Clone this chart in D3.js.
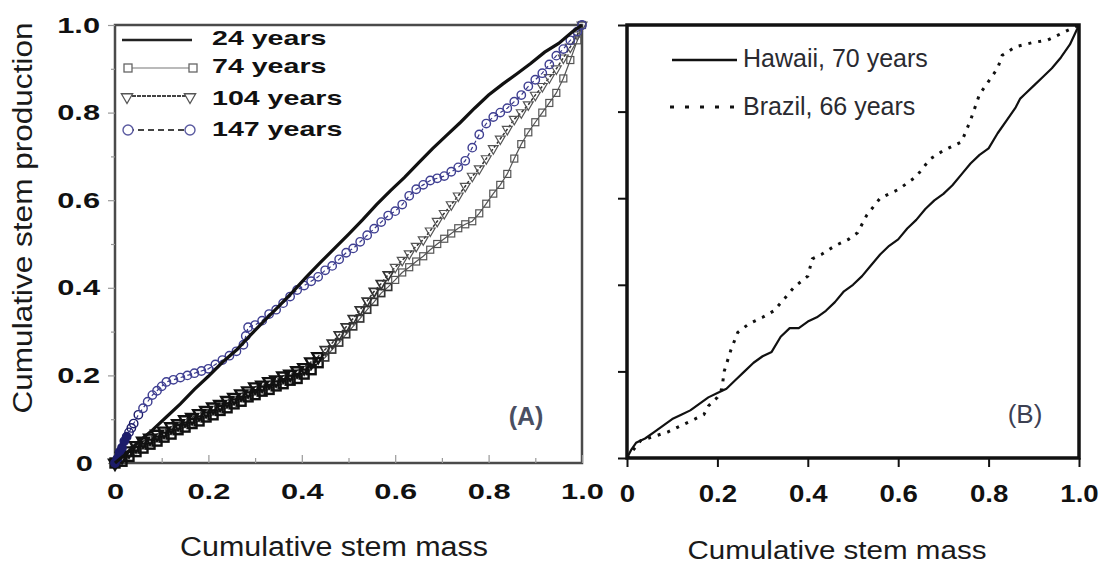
<!DOCTYPE html>
<html>
<head>
<meta charset="utf-8">
<script src="https://cdn.jsdelivr.net/npm/d3@7"></script>
<style>
  body { margin: 0; background: #fff; }
  svg { display: block; font-family: "Liberation Sans", Arial, sans-serif; }
</style>
</head>
<body>
<div id="chart"></div>
<script>
// tick values / labels
var tickVals = [0, 0.2, 0.4, 0.6, 0.8, 1.0];
var minorVals = [0.1, 0.3, 0.5, 0.7, 0.9];
var tickLabels = ["0", "0.2", "0.4", "0.6", "0.8", "1.0"];

var namesA = ["24 years", "74 years", "104 years", "147 years"];
var namesB = ["Hawaii, 70 years", "Brazil, 66 years"];

// panel A series: [cumulative stem mass, cumulative stem production]
var yr24 = [[0,0],[0.02,0.018],[0.05,0.048],[0.08,0.075],[0.11,0.105],[0.14,0.135],[0.17,0.168],[0.2,0.198],
  [0.23,0.23],[0.26,0.258],[0.29,0.292],[0.32,0.325],[0.35,0.357],[0.38,0.39],[0.41,0.425],[0.44,0.458],
  [0.47,0.49],[0.5,0.522],[0.53,0.555],[0.56,0.59],[0.59,0.622],[0.62,0.652],[0.65,0.685],[0.68,0.718],
  [0.71,0.748],[0.74,0.778],[0.77,0.81],[0.8,0.84],[0.83,0.865],[0.86,0.888],[0.89,0.912],[0.92,0.938],
  [0.95,0.958],[0.98,0.985],[1,1]];

var yr74 = [[0,0],[0.015,0.004],[0.03,0.015],[0.045,0.026],[0.06,0.034],[0.075,0.043],[0.09,0.05],[0.105,0.059],
  [0.12,0.066],[0.135,0.076],[0.15,0.082],[0.165,0.09],[0.18,0.096],[0.195,0.105],[0.21,0.11],[0.225,0.12],
  [0.24,0.126],[0.255,0.135],[0.27,0.141],[0.285,0.151],[0.3,0.156],[0.315,0.164],[0.33,0.168],[0.345,0.176],
  [0.36,0.181],[0.375,0.189],[0.39,0.193],[0.405,0.203],[0.42,0.213],[0.435,0.229],[0.45,0.241],[0.465,0.259],
  [0.48,0.275],[0.495,0.294],[0.51,0.312],[0.525,0.33],[0.54,0.35],[0.555,0.368],[0.57,0.388],[0.585,0.402],
  [0.6,0.418],[0.615,0.435],[0.63,0.447],[0.645,0.46],[0.66,0.472],[0.675,0.487],[0.69,0.5],[0.705,0.512],
  [0.72,0.524],[0.735,0.536],[0.75,0.545],[0.765,0.552],[0.78,0.57],[0.795,0.592],[0.81,0.615],[0.825,0.635],
  [0.84,0.66],[0.855,0.695],[0.87,0.728],[0.885,0.755],[0.9,0.778],[0.915,0.8],[0.93,0.822],[0.945,0.845],
  [0.96,0.878],[0.975,0.92],[0.99,0.965],[1,1]];

var yr104 = [[0,0],[0.015,0.015],[0.03,0.028],[0.045,0.04],[0.06,0.05],[0.075,0.057],[0.09,0.066],[0.105,0.073],
  [0.12,0.083],[0.135,0.09],[0.15,0.099],[0.165,0.104],[0.18,0.113],[0.195,0.12],[0.21,0.128],[0.225,0.134],
  [0.24,0.143],[0.255,0.15],[0.27,0.158],[0.285,0.165],[0.3,0.174],[0.315,0.178],[0.33,0.186],[0.345,0.19],
  [0.36,0.199],[0.375,0.203],[0.39,0.211],[0.405,0.218],[0.42,0.231],[0.435,0.243],[0.45,0.259],[0.465,0.274],
  [0.48,0.293],[0.495,0.311],[0.51,0.33],[0.525,0.35],[0.54,0.37],[0.555,0.392],[0.57,0.41],[0.585,0.43],
  [0.6,0.447],[0.615,0.463],[0.63,0.478],[0.645,0.495],[0.66,0.51],[0.675,0.53],[0.69,0.552],[0.705,0.57],
  [0.72,0.59],[0.735,0.61],[0.75,0.632],[0.765,0.655],[0.78,0.672],[0.795,0.695],[0.81,0.718],[0.825,0.74],
  [0.84,0.762],[0.855,0.785],[0.87,0.8],[0.885,0.818],[0.9,0.84],[0.915,0.86],[0.93,0.88],[0.945,0.9],
  [0.96,0.925],[0.975,0.95],[0.99,0.978],[1,1]];

var yr147 = [[0,0],[0.005,0.01],[0.01,0.025],[0.015,0.035],[0.02,0.05],[0.025,0.06],[0.03,0.07],[0.035,0.08],
  [0.04,0.09],[0.05,0.11],[0.06,0.125],[0.07,0.14],[0.08,0.155],[0.09,0.165],[0.1,0.175],[0.11,0.185],
  [0.125,0.19],[0.14,0.195],[0.155,0.2],[0.17,0.205],[0.185,0.21],[0.2,0.215],[0.215,0.225],[0.23,0.235],
  [0.245,0.245],[0.26,0.255],[0.275,0.27],[0.28,0.29],[0.285,0.31],[0.3,0.315],[0.315,0.325],[0.33,0.34],
  [0.345,0.35],[0.36,0.365],[0.375,0.38],[0.39,0.395],[0.405,0.405],[0.42,0.415],[0.435,0.425],[0.45,0.44],
  [0.465,0.45],[0.48,0.465],[0.495,0.48],[0.51,0.49],[0.525,0.505],[0.54,0.52],[0.555,0.535],[0.57,0.55],
  [0.585,0.565],[0.6,0.575],[0.615,0.59],[0.63,0.61],[0.645,0.625],[0.66,0.635],[0.675,0.645],[0.69,0.65],
  [0.705,0.655],[0.72,0.665],[0.735,0.675],[0.75,0.69],[0.765,0.72],[0.78,0.75],[0.795,0.775],[0.81,0.79],
  [0.825,0.8],[0.84,0.81],[0.855,0.825],[0.87,0.84],[0.885,0.86],[0.9,0.875],[0.915,0.89],[0.93,0.91],
  [0.945,0.93],[0.96,0.945],[0.975,0.965],[0.99,0.985],[1,1]];

// panel B series
var hawaii70 = [[0,0],[0.01,0.02],[0.02,0.035],[0.04,0.045],[0.06,0.06],[0.08,0.075],[0.1,0.09],[0.12,0.1],
  [0.14,0.11],[0.16,0.125],[0.18,0.14],[0.2,0.15],[0.22,0.16],[0.24,0.18],[0.26,0.2],[0.28,0.22],[0.3,0.235],
  [0.32,0.245],[0.34,0.28],[0.36,0.3],[0.38,0.3],[0.4,0.315],[0.42,0.325],[0.44,0.34],[0.46,0.36],[0.48,0.385],
  [0.5,0.4],[0.52,0.42],[0.54,0.445],[0.56,0.47],[0.58,0.49],[0.6,0.505],[0.62,0.53],[0.64,0.55],[0.66,0.575],
  [0.68,0.595],[0.7,0.61],[0.72,0.63],[0.74,0.655],[0.76,0.68],[0.78,0.7],[0.8,0.715],[0.82,0.75],[0.84,0.78],
  [0.86,0.81],[0.87,0.83],[0.88,0.84],[0.9,0.86],[0.92,0.88],[0.94,0.9],[0.96,0.925],[0.98,0.955],[1,1]];

var brazil66 = [[0,0],[0.03,0.04],[0.06,0.05],[0.09,0.06],[0.12,0.075],[0.15,0.09],[0.17,0.1],[0.18,0.12],
  [0.2,0.14],[0.21,0.16],[0.215,0.2],[0.23,0.25],[0.245,0.29],[0.27,0.31],[0.3,0.325],[0.325,0.34],[0.35,0.37],
  [0.37,0.395],[0.4,0.42],[0.41,0.46],[0.43,0.47],[0.46,0.49],[0.49,0.505],[0.51,0.52],[0.53,0.56],[0.56,0.6],
  [0.6,0.62],[0.64,0.65],[0.67,0.69],[0.7,0.71],[0.74,0.73],[0.76,0.78],[0.78,0.84],[0.8,0.87],[0.82,0.9],
  [0.83,0.93],[0.86,0.95],[0.9,0.96],[0.93,0.965],[0.96,0.98],[0.98,0.99],[1,1]];

var W = 1100, H = 567;

var svg = d3.select("#chart")
    .append("svg")
    .attr("width", W)
    .attr("height", H);

svg.append("rect").attr("width", W).attr("height", H).attr("fill", "#fff");

drawPanelA();
drawPanelB();

function fmt(d) {
  return tickLabels[tickVals.indexOf(d)];
}

function drawPanelA() {
  var x = d3.scaleLinear().domain([0, 1]).range([115, 582]);
  var y = d3.scaleLinear().domain([0, 1]).range([463, 25]);

  var g = svg.append("g").attr("class", "panelA");

  // frame
  g.append("rect")
      .attr("x", x(0)).attr("y", y(1))
      .attr("width", x(1) - x(0)).attr("height", y(0) - y(1))
      .attr("fill", "none")
      .attr("stroke", "#4a4a4a")
      .attr("stroke-width", 2.5);

  // bottom axis
  var gx = g.append("g")
      .attr("transform", "translate(0," + y(0) + ")")
      .call(d3.axisBottom(x).tickValues(tickVals).tickSize(-8).tickPadding(20).tickFormat(fmt));
  var gxm = g.append("g")
      .attr("transform", "translate(0," + y(0) + ")")
      .call(d3.axisBottom(x).tickValues(minorVals).tickSize(-5).tickFormat(""));

  gx.selectAll("text")
      .attr("transform", "scale(1.4,1)")
      .style("font-size", "22px")
      .style("font-weight", "bold")
      .attr("fill", "#111");

  // left axis
  var gy = g.append("g")
      .attr("transform", "translate(" + x(0) + ",0)")
      .call(d3.axisLeft(y).tickValues(tickVals).tickSize(7).tickFormat(fmt));
  var gym = g.append("g")
      .attr("transform", "translate(" + x(0) + ",0)")
      .call(d3.axisLeft(y).tickValues(minorVals).tickSize(4).tickFormat(""));

  gy.selectAll("text")
      .attr("x", 0)
      .attr("transform", function (d) { return "translate(" + (d === 0 ? -22 : -15) + ",0) scale(1.4,1)"; })
      .style("font-size", "22px")
      .style("font-weight", "bold")
      .attr("fill", "#111");

  g.selectAll(".domain").remove();
  g.selectAll(".tick line").attr("stroke", "#999").attr("stroke-width", 1.2);

  var line = d3.line()
      .x(function (d) { return x(d[0]); })
      .y(function (d) { return y(d[1]); });

  // lower part of the 74/104 series is a dense dark band
  function markColor(d) { return d[0] < 0.45 ? "#111" : (d[0] < 0.6 ? "#333" : "#555"); }
  function markWidth(d) { return d[0] < 0.45 ? 2.4 : (d[0] < 0.6 ? 1.7 : 1.2); }
  function markSize(d) { return d[0] < 0.45 ? 9 : 7; }

  // 74 years - squares
  g.append("path").datum(yr74)
      .attr("d", line).attr("fill", "none")
      .attr("stroke", "#555").attr("stroke-width", 1.2);
  g.selectAll(".sq").data(yr74).enter()
      .append("rect").attr("class", "sq")
      .attr("x", function (d) { return x(d[0]) - markSize(d) / 2; })
      .attr("y", function (d) { return y(d[1]) - markSize(d) / 2; })
      .attr("width", markSize).attr("height", markSize)
      .attr("fill", "none")
      .attr("stroke", markColor)
      .attr("stroke-width", markWidth);

  // 104 years - down triangles
  g.append("path").datum(yr104)
      .attr("d", line).attr("fill", "none")
      .attr("stroke", "#333").attr("stroke-width", 1.5)
      .attr("stroke-dasharray", "3,2");
  g.selectAll(".tri").data(yr104).enter()
      .append("path").attr("class", "tri")
      .attr("d", function (d) { return d3.symbol().type(d3.symbolTriangle).size(d[0] < 0.45 ? 60 : 42)(); })
      .attr("transform", function (d) { return "translate(" + x(d[0]) + "," + y(d[1]) + ") rotate(180)"; })
      .attr("fill", "none")
      .attr("stroke", markColor)
      .attr("stroke-width", markWidth);

  // 147 years - blue circles
  g.append("path").datum(yr147)
      .attr("d", line).attr("fill", "none")
      .attr("stroke", "#3a3a8a").attr("stroke-width", 1.2)
      .attr("stroke-dasharray", "4,3");
  g.selectAll(".circ").data(yr147).enter()
      .append("circle").attr("class", "circ")
      .attr("cx", function (d) { return x(d[0]); })
      .attr("cy", function (d) { return y(d[1]); })
      .attr("r", 4.2)
      .attr("fill", function (d) { return d[0] < 0.03 ? "#1c1c6a" : "none"; })
      .attr("stroke", function (d) { return d[0] < 0.06 ? "#1c1c6a" : "#3f3f92"; })
      .attr("stroke-width", 1.4);

  // 24 years - solid
  g.append("path").datum(yr24)
      .attr("d", line).attr("fill", "none")
      .attr("stroke", "#111").attr("stroke-width", 3.2);

  // legend
  var leg = g.append("g").attr("class", "legendA");
  var ly = [40, 68, 97, 130];
  var lb = [45, 73, 105, 136];

  leg.append("line").attr("x1", 122).attr("x2", 192).attr("y1", ly[0]).attr("y2", ly[0])
      .attr("stroke", "#222").attr("stroke-width", 2.5);

  leg.append("line").attr("x1", 128).attr("x2", 193).attr("y1", ly[1]).attr("y2", ly[1])
      .attr("stroke", "#777").attr("stroke-width", 1.2);
  leg.selectAll(".lsq").data([128, 193]).enter().append("rect")
      .attr("x", function (d) { return d - 4; }).attr("y", ly[1] - 4)
      .attr("width", 8).attr("height", 8)
      .attr("fill", "#fff").attr("stroke", "#666").attr("stroke-width", 1.3);

  leg.append("line").attr("x1", 127).attr("x2", 190).attr("y1", ly[2] - 1).attr("y2", ly[2] - 1)
      .attr("stroke", "#444").attr("stroke-width", 2).attr("stroke-dasharray", "4,1");
  leg.selectAll(".ltri").data([127, 190]).enter().append("path")
      .attr("d", d3.symbol().type(d3.symbolTriangle).size(55))
      .attr("transform", function (d) { return "translate(" + d + "," + ly[2] + ") rotate(180)"; })
      .attr("fill", "#fff").attr("stroke", "#555").attr("stroke-width", 1.3);

  leg.append("line").attr("x1", 128).attr("x2", 190).attr("y1", ly[3]).attr("y2", ly[3])
      .attr("stroke", "#444").attr("stroke-width", 2).attr("stroke-dasharray", "6,4");
  leg.selectAll(".lcirc").data([128, 190]).enter().append("circle")
      .attr("cx", function (d) { return d; }).attr("cy", ly[3])
      .attr("r", 5)
      .attr("fill", "#fff").attr("stroke", "#5a5aa0").attr("stroke-width", 1.4);

  leg.selectAll(".ltext").data(namesA).enter().append("text")
      .attr("transform", function (d, i) { return "translate(212," + lb[i] + ") scale(1.43,1)"; })
      .style("font-size", "20px")
      .style("font-weight", "bold")
      .attr("fill", "#111")
      .text(function (d) { return d; });

  // panel tag
  g.append("text")
      .attr("x", 526).attr("y", 425)
      .attr("text-anchor", "middle")
      .style("font-size", "25px")
      .style("font-weight", "bold")
      .attr("fill", "#4a4f62")
      .text("(A)");

  // axis titles
  g.append("text")
      .attr("transform", "translate(23,218) rotate(-90)")
      .attr("text-anchor", "middle")
      .attr("dy", "0.35em")
      .attr("textLength", 391)
      .attr("lengthAdjust", "spacingAndGlyphs")
      .style("font-size", "27px")
      .attr("fill", "#1a1a1a")
      .text("Cumulative stem production");

  g.append("text")
      .attr("x", 334).attr("y", 547)
      .attr("text-anchor", "middle")
      .attr("dy", "0.35em")
      .attr("textLength", 308)
      .attr("lengthAdjust", "spacingAndGlyphs")
      .style("font-size", "27px")
      .attr("fill", "#1a1a1a")
      .text("Cumulative stem mass");
}

function drawPanelB() {
  var x = d3.scaleLinear().domain([0, 1]).range([627, 1079]);
  var y = d3.scaleLinear().domain([0, 1]).range([458, 25]);

  var g = svg.append("g").attr("class", "panelB");

  var gx = g.append("g")
      .attr("transform", "translate(0," + y(0) + ")")
      .call(d3.axisBottom(x).tickValues(tickVals).tickSize(9).tickPadding(18).tickFormat(fmt));
  gx.selectAll("text")
      .attr("transform", "scale(1.15,1)")
      .style("font-size", "24px")
      .style("font-weight", "bold")
      .attr("fill", "#111");

  var gy = g.append("g")
      .attr("transform", "translate(" + x(0) + ",0)")
      .call(d3.axisLeft(y).tickValues(tickVals).tickSize(9).tickFormat(""));

  g.selectAll(".domain").remove();
  g.selectAll(".tick line").attr("stroke", "#111").attr("stroke-width", 2);

  g.append("rect")
      .attr("x", x(0)).attr("y", y(1))
      .attr("width", x(1) - x(0)).attr("height", y(0) - y(1))
      .attr("fill", "none")
      .attr("stroke", "#111")
      .attr("stroke-width", 3.5);

  var line = d3.line()
      .x(function (d) { return x(d[0]); })
      .y(function (d) { return y(d[1]); });

  g.append("path").datum(brazil66)
      .attr("d", line).attr("fill", "none")
      .attr("stroke", "#111").attr("stroke-width", 3)
      .attr("stroke-dasharray", "3,7");

  g.append("path").datum(hawaii70)
      .attr("d", line).attr("fill", "none")
      .attr("stroke", "#111").attr("stroke-width", 2.2)
      .attr("stroke-linejoin", "round");

  // legend
  g.append("line").attr("x1", 672).attr("x2", 737).attr("y1", 60).attr("y2", 60)
      .attr("stroke", "#111").attr("stroke-width", 2.5);
  g.append("line").attr("x1", 670).attr("x2", 737).attr("y1", 107).attr("y2", 107)
      .attr("stroke", "#111").attr("stroke-width", 3)
      .attr("stroke-dasharray", "4,11");

  g.selectAll(".ltext").data(namesB).enter().append("text")
      .attr("x", 743)
      .attr("y", function (d, i) { return i === 0 ? 67 : 115; })
      .style("font-size", "25px")
      .attr("fill", "#2a2a30")
      .text(function (d) { return d; });

  g.append("text")
      .attr("x", 1025).attr("y", 423)
      .attr("text-anchor", "middle")
      .style("font-size", "26px")
      .attr("fill", "#3c4052")
      .text("(B)");

  g.append("text")
      .attr("x", 837).attr("y", 550)
      .attr("text-anchor", "middle")
      .attr("dy", "0.35em")
      .attr("textLength", 299)
      .attr("lengthAdjust", "spacingAndGlyphs")
      .style("font-size", "26px")
      .attr("fill", "#1a1a1a")
      .text("Cumulative stem mass");
}
</script>
</body>
</html>
